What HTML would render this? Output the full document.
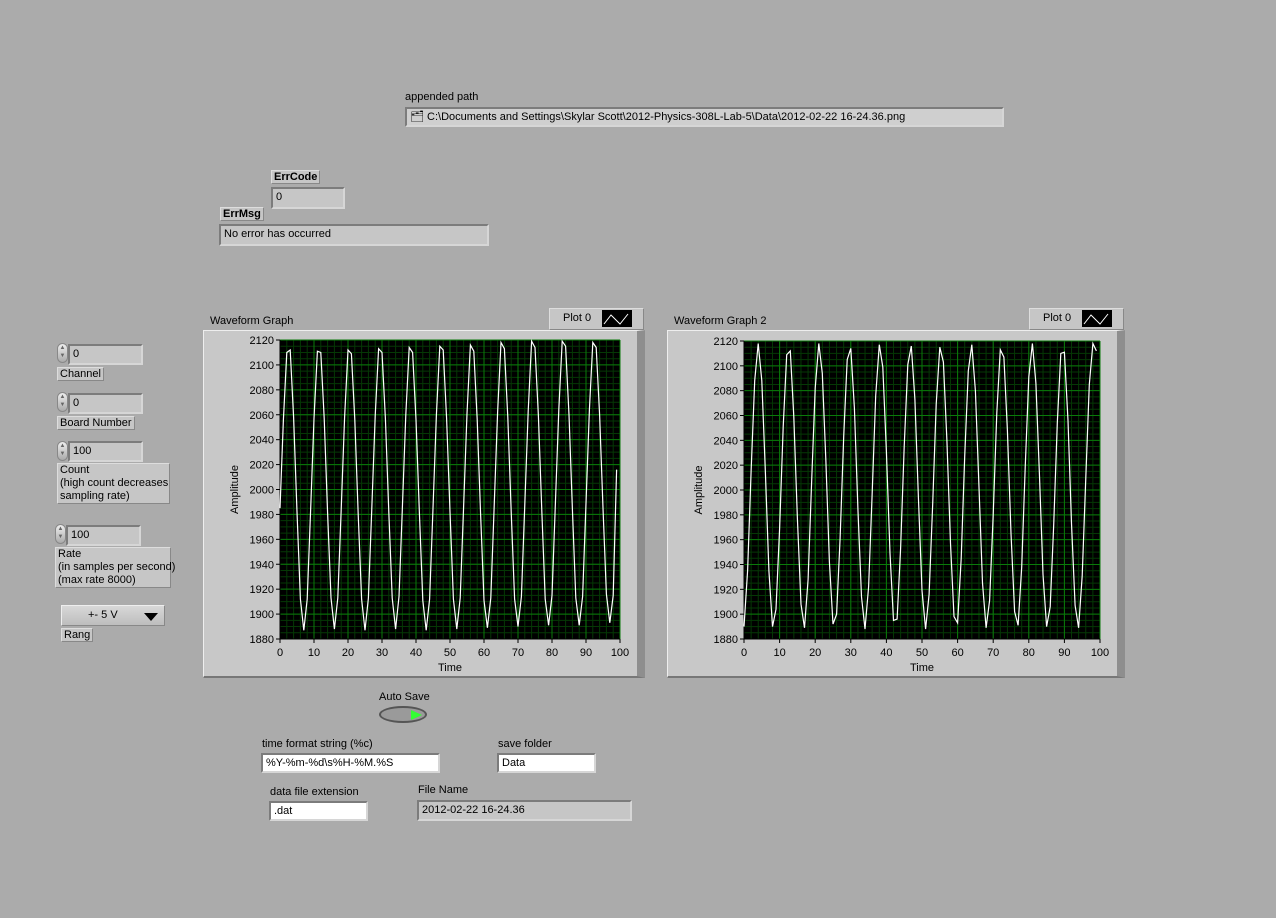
<!DOCTYPE html>
<html><head><meta charset="utf-8">
<style>
html,body{margin:0;padding:0;}
body{width:1276px;height:918px;background:#ababab;position:relative;overflow:hidden;font-family:"Liberation Sans",sans-serif;font-size:11px;color:#000;}
.a{position:absolute;white-space:nowrap;}
.inset{position:absolute;box-sizing:border-box;border-top:2px solid #7c7c7c;border-left:2px solid #7c7c7c;border-bottom:2px solid #d6d6d6;border-right:2px solid #d6d6d6;background:#c6c6c6;padding:1px 3px;line-height:14px;white-space:nowrap;}
.ctrl{background:#fff;}
.lbl{position:absolute;box-sizing:border-box;background:#c6c6c6;border:1px solid #888;border-top-color:#ddd;border-left-color:#ddd;padding:0 2px;line-height:12px;white-space:nowrap;}
.spin{position:absolute;width:11px;height:20px;border-radius:6px;background:linear-gradient(#eee,#aaa);border:1px solid #888;box-sizing:border-box;font-size:6px;line-height:8px;text-align:center;color:#666;}
</style></head><body>
<div class="a" style="left:405px;top:91px">appended path</div>
<div class="inset" style="left:405px;top:107px;width:599px;height:20px;background:#cfcfcf">&#x1F5C2;&#xFE0E; C:\Documents and Settings\Skylar Scott\2012-Physics-308L-Lab-5\Data\2012-02-22 16-24.36.png</div>

<div class="lbl" style="left:271px;top:170px;font-weight:bold">ErrCode</div>
<div class="inset" style="left:271px;top:187px;width:74px;height:22px">0</div>
<div class="lbl" style="left:220px;top:207px;font-weight:bold">ErrMsg</div>
<div class="inset" style="left:219px;top:224px;width:270px;height:22px">No error has occurred</div>

<!-- left controls -->
<div class="spin" style="left:57px;top:343px">▲<br>▼</div>
<div class="inset ctrl" style="left:68px;top:344px;width:75px;height:21px;background:#c6c6c6">0</div>
<div class="lbl" style="left:57px;top:367px">Channel</div>
<div class="spin" style="left:57px;top:392px">▲<br>▼</div>
<div class="inset" style="left:68px;top:393px;width:75px;height:21px">0</div>
<div class="lbl" style="left:57px;top:416px">Board Number</div>
<div class="spin" style="left:57px;top:441px">▲<br>▼</div>
<div class="inset" style="left:68px;top:441px;width:75px;height:21px">100</div>
<div class="lbl" style="left:57px;top:463px;width:113px;height:41px;line-height:13px">Count<br>(high count decreases<br>sampling rate)</div>
<div class="spin" style="left:55px;top:524px">▲<br>▼</div>
<div class="inset" style="left:66px;top:525px;width:75px;height:21px">100</div>
<div class="lbl" style="left:55px;top:547px;width:116px;height:41px;line-height:13px">Rate<br>(in samples per second)<br>(max rate 8000)</div>
<div class="a" style="left:61px;top:605px;width:104px;height:21px;box-sizing:border-box;background:linear-gradient(#d8d8d8,#bdbdbd);border:1px solid #888;border-top-color:#eee;border-left-color:#eee;line-height:19px;padding-left:26px">+- 5 V<span style="position:absolute;right:6px;top:7px;border-left:7px solid transparent;border-right:7px solid transparent;border-top:8px solid #000"></span></div>
<div class="lbl" style="left:61px;top:628px">Rang</div>

<!-- graph frames -->
<div class="a" style="left:210px;top:315px">Waveform Graph</div>
<div class="a" style="left:549px;top:308px;width:95px;height:22px;background:#c6c6c6;border:1px solid #888;border-top-color:#ddd;border-left-color:#ddd;box-sizing:border-box"><span style="position:absolute;left:13px;top:3px">Plot 0</span><span style="position:absolute;left:52px;top:1px;width:30px;height:17px;background:#000"></span></div>
<div class="a" style="left:203px;top:330px;width:442px;height:348px;box-sizing:border-box;background:#c8c8c8;border:1px solid #eee;border-right:8px solid #8e8e8e;border-bottom:2px solid #777"></div>
<div class="a" style="left:674px;top:315px">Waveform Graph 2</div>
<div class="a" style="left:1029px;top:308px;width:95px;height:22px;background:#c6c6c6;border:1px solid #888;border-top-color:#ddd;border-left-color:#ddd;box-sizing:border-box"><span style="position:absolute;left:13px;top:3px">Plot 0</span><span style="position:absolute;left:52px;top:1px;width:30px;height:17px;background:#000"></span></div>
<div class="a" style="left:667px;top:330px;width:458px;height:348px;box-sizing:border-box;background:#c8c8c8;border:1px solid #eee;border-right:8px solid #8e8e8e;border-bottom:2px solid #777"></div>

<svg id="charts" width="1276" height="918" style="position:absolute;left:0;top:0" font-family="Liberation Sans, sans-serif" font-size="11"></svg>

<!-- bottom controls -->
<div class="a" style="left:379px;top:691px">Auto Save</div>
<div class="a" style="left:379px;top:706px;width:48px;height:17px;border-radius:50%;background:#9a9a9a;border:2px solid #555;box-sizing:border-box"><span style="position:absolute;left:30px;top:2px;border-top:5px solid transparent;border-bottom:5px solid transparent;border-left:11px solid #3f3"></span></div>
<div class="a" style="left:262px;top:738px">time format string (%c)</div>
<div class="inset ctrl" style="left:261px;top:753px;width:179px;height:20px">%Y-%m-%d\s%H-%M.%S</div>
<div class="a" style="left:498px;top:738px">save folder</div>
<div class="inset ctrl" style="left:497px;top:753px;width:99px;height:20px">Data</div>
<div class="a" style="left:270px;top:786px">data file extension</div>
<div class="inset ctrl" style="left:269px;top:801px;width:99px;height:20px">.dat</div>
<div class="a" style="left:418px;top:784px">File Name</div>
<div class="inset" style="left:417px;top:800px;width:215px;height:21px">2012-02-22 16-24.36</div>

<script>
const yTicks = [1880,1900,1920,1940,1960,1980,2000,2020,2040,2060,2080,2100,2120];
const xTicks = [0,10,20,30,40,50,60,70,80,90,100];
const series1 = [1985,2056,2110,2112,2058,1982,1912,1887,1912,1983,2057,2111,2110,2057,1981,1913,1888,1913,1984,2058,2112,2109,2056,1980,1912,1887,1913,1985,2059,2113,2110,2057,1982,1913,1888,1914,1986,2060,2114,2110,2056,1981,1911,1887,1912,1985,2060,2115,2112,2057,1982,1912,1888,1913,1986,2061,2116,2111,2056,1980,1911,1889,1913,1987,2062,2118,2113,2058,1982,1912,1890,1914,1988,2063,2119,2114,2059,1983,1912,1891,1915,1989,2064,2119,2115,2060,1984,1913,1891,1914,1989,2064,2118,2114,2060,1985,1916,1893,1915,2016];
const series2 = [1890,1935,2015,2088,2118,2088,2014,1935,1890,1904,1969,2051,2109,2112,2059,1977,1908,1889,1928,2006,2082,2118,2094,2023,1942,1892,1900,1961,2043,2105,2114,2066,1985,1914,1888,1922,1998,2076,2117,2099,2031,1949,1895,1896,1953,2035,2101,2116,2073,1994,1919,1888,1916,1989,2069,2115,2103,2040,1957,1898,1893,1945,2027,2096,2117,2080,2002,1925,1889,1911,1980,2062,2113,2107,2048,1965,1902,1891,1938,2018,2091,2118,2086,2011,1932,1890,1906,1972,2054,2110,2111,2056,1973,1907,1889,1931,2010,2085,2118,2112];

const svg = document.getElementById('charts');
const NS = 'http://www.w3.org/2000/svg';
function mk(tag, attrs, parent){
  const e = document.createElementNS(NS, tag);
  for (const k in attrs) e.setAttribute(k, attrs[k]);
  parent.appendChild(e);
  return e;
}
function drawGraph(prefix, values, L, R, T, B){
  const xs = v => L + (v - 0) / 100 * (R - L);
  const ys = v => B - (v - 1880) / 240 * (B - T);
  const g = mk('g', {}, svg);
  
  
  const bg = mk('rect', {x:L, y:T, width:R-L, height:B-T, fill:'#000'}, g);
  
  
  for (let v = 0; v <= 100; v += 2) mk('line', {x1:xs(v), x2:xs(v), y1:T, y2:B, stroke:'#053805', 'stroke-width':1}, g);
  for (let v = 1880; v <= 2120; v += 5) mk('line', {x1:L, x2:R, y1:ys(v), y2:ys(v), stroke:'#053805', 'stroke-width':1}, g);
  xTicks.forEach(v => {
    mk('line', {x1:xs(v), x2:xs(v), y1:T, y2:B, stroke:'#0a7a0a', 'stroke-width':1}, g);
    mk('line', {x1:xs(v), x2:xs(v), y1:B, y2:B+4, stroke:'#000'}, g);
    const t = mk('text', {x:xs(v), y:B+17, 'text-anchor':'middle'}, g);
    t.textContent = v;
    
    
  });
  yTicks.forEach(v => {
    mk('line', {x1:L, x2:R, y1:ys(v), y2:ys(v), stroke:'#0a7a0a', 'stroke-width':1}, g);
    mk('line', {x1:L-4, x2:L, y1:ys(v), y2:ys(v), stroke:'#000'}, g);
    const t = mk('text', {x:L-6, y:ys(v)+4, 'text-anchor':'end'}, g);
    t.textContent = v;
    
    
  });
  mk('line', {x1:L, x2:L, y1:T, y2:B, stroke:'#000'}, g);
  mk('line', {x1:L, x2:R, y1:B, y2:B, stroke:'#000'}, g);
  const xt = mk('text', {x:(L+R)/2, y:B+32, 'text-anchor':'middle'}, g);
  xt.textContent = 'Time';
  
  
  const yt = mk('text', {x:0, y:0, 'text-anchor':'middle', transform:'translate('+(L-42)+','+((T+B)/2)+') rotate(-90)'}, g);
  yt.textContent = 'Amplitude';
  
  
  const pts = values.map((v,i) => xs(i).toFixed(1) + ',' + ys(v).toFixed(1)).join(' ');
  const line = mk('polyline', {points:pts, fill:'none', stroke:'#fff', 'stroke-width':1.2}, g);
  
  
}
drawGraph('waveform-graph', series1, 280, 620, 340, 639);
drawGraph('waveform-graph-2', series2, 744, 1100, 341, 639);
[[601,310],[1081,310]].forEach((p,i) => {
  const pl = mk('polyline', {points:(p[0]+3)+','+(p[1]+14)+' '+(p[0]+10)+','+(p[1]+5)+' '+(p[0]+19)+','+(p[1]+14)+' '+(p[0]+27)+','+(p[1]+4), fill:'none', stroke:'#fff'}, svg);
  
  
});
</script>
</body></html>
